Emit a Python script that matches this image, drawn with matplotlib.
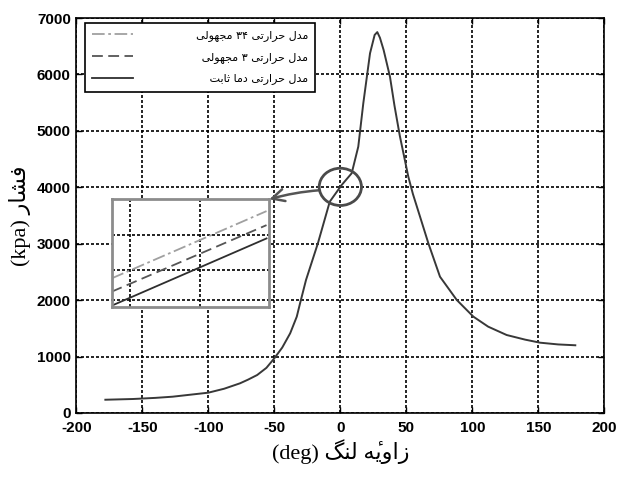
import re
import numpy as np
import matplotlib
matplotlib.use('Agg')
import matplotlib.pyplot as plt
from matplotlib.patches import Ellipse

# زاویه لنگ (deg) و فشار (kpa)
angle = [-178, -157, -140, -127, -100, -88, -76, -70, -63, -56, -50, -44, -38,
         -33, -30.5, -26, -17, -8, 1, 8.6, 13.6, 17.4, 22.5,
         26, 28, 30, 32.8, 35.2, 37.6, 41, 45, 51.5, 55,
         60.4, 66.7, 75.5, 88.2, 100.8, 112, 126, 140, 151.3, 165, 178]
pressure = [235, 248, 268, 289, 360, 430, 526, 590, 673, 800, 969, 1160, 1412,
            1707, 1944, 2357, 3007, 3745, 4040, 4248, 4720, 5488, 6375,
            6700, 6750, 6650, 6433, 6197, 5960, 5450, 4920, 4188, 3880,
            3478, 3007, 2415, 2003, 1707, 1530, 1382, 1300, 1246, 1215, 1200]

# zoomed window around TDC (inset)
zoom_angle = [-1.26, 0.95]
zoom_34 = [3938, 4034]
zoom_3 = [3919, 4014]
zoom_const = [3899, 3995]

xticks = list(range(-200, 201, 50))
yticks = list(range(0, 7001, 1000))

lbl_34 = 'مدل حرارتی ۳۴ مجهولی'
lbl_3 = 'مدل حرارتی ۳ مجهولی'
lbl_const = 'مدل حرارتی دما ثابت'
xlabel_fa = 'زاویهٔ لنگ'
ylabel_fa = 'فشار'

# matplotlib has no arabic shaping, so do it by hand (iso, fin, ini, med)
FORMS = {
    'ا': ('\uFE8D', '\uFE8E', None, None),
    'د': ('\uFEA9', '\uFEAA', None, None),
    'ر': ('\uFEAD', '\uFEAE', None, None),
    'ز': ('\uFEAF', '\uFEB0', None, None),
    'و': ('\uFEED', '\uFEEE', None, None),
    '\u06C0': ('\uE000', '\uE001', None, None),   # heh + hamza, filled in later
    'ب': ('\uFE8F', '\uFE90', '\uFE91', '\uFE92'),
    'ت': ('\uFE95', '\uFE96', '\uFE97', '\uFE98'),
    'ث': ('\uFE99', '\uFE9A', '\uFE9B', '\uFE9C'),
    'ج': ('\uFE9D', '\uFE9E', '\uFE9F', '\uFEA0'),
    'ح': ('\uFEA1', '\uFEA2', '\uFEA3', '\uFEA4'),
    'ش': ('\uFEB5', '\uFEB6', '\uFEB7', '\uFEB8'),
    'ف': ('\uFED1', '\uFED2', '\uFED3', '\uFED4'),
    'ل': ('\uFEDD', '\uFEDE', '\uFEDF', '\uFEE0'),
    'م': ('\uFEE1', '\uFEE2', '\uFEE3', '\uFEE4'),
    'ن': ('\uFEE5', '\uFEE6', '\uFEE7', '\uFEE8'),
    'ه': ('\uFEE9', '\uFEEA', '\uFEEB', '\uFEEC'),
    'گ': ('\uFB92', '\uFB93', '\uFB94', '\uFB95'),
    'ی': ('\uFBFC', '\uFBFD', '\uFBFE', '\uFBFF'),
}


def shape(word):
    out = []
    for i, ch in enumerate(word):
        if ch not in FORMS:
            out.append(ch)
            continue
        iso, fin, ini, med = FORMS[ch]
        prev = word[i - 1] if i > 0 else ''
        nxt = word[i + 1] if i < len(word) - 1 else ''
        jp = prev in FORMS and FORMS[prev][2] is not None
        jn = ini is not None and nxt in FORMS
        if jp and jn:
            out.append(med)
        elif jp:
            out.append(fin)
        elif jn:
            out.append(ini)
        else:
            out.append(iso)
    return ''.join(out)


def visual(s):
    s = shape(s.replace('ه\u0654', '\u06C0'))[::-1]
    s = s.replace('\uE000', '\uFEE9\u0654').replace('\uE001', '\uFEEA\u0654')
    # numbers stay left to right
    return re.sub('[0-9\u06F0-\u06F9]+', lambda m: m.group(0)[::-1], s)


plt.rcParams['font.family'] = ['Liberation Sans', 'DejaVu Sans']
plt.rcParams['axes.unicode_minus'] = False
dots = (0, (1.8, 1.2))

fig = plt.figure(figsize=(6.22, 4.8), dpi=100)
ax = fig.add_axes([0.1227, 0.1396, 0.8489, 0.8229])

ax.plot(angle, pressure, color='#383838', lw=1.4, zorder=3)
ax.set_xlim(-200, 200)
ax.set_ylim(0, 7000)
ax.set_xticks(xticks)
ax.set_yticks(yticks)
ax.grid(True, color='black', linestyle=dots, lw=1.2)
ax.tick_params(direction='in', top=True, right=True, length=4, width=1,
               labelsize=11, pad=4)
ax.tick_params(axis='x', pad=6)
for t in ax.get_xticklabels() + ax.get_yticklabels():
    t.set_fontweight('bold')
for s in ax.spines.values():
    s.set_linewidth(1.2)

ax.set_xlabel('(deg) ' + visual(xlabel_fa), family=['Liberation Serif', 'DejaVu Sans'],
              fontsize=16, labelpad=3)
ax.set_ylabel('(kpa) ' + visual(ylabel_fa), family=['Liberation Serif', 'DejaVu Sans'],
              fontsize=16, labelpad=4)

# circle at TDC + arrow to the zoom box
cy = np.interp(0, angle, pressure)
ax.add_patch(Ellipse((0, cy), 32, 660, fill=False, ec='#4a4a4a', lw=2, zorder=4))

ins = fig.add_axes([0.1796, 0.361, 0.2534, 0.2238])
l34, = ins.plot(zoom_angle, zoom_34, color='#a0a0a0', ls=(0, (7, 2, 1.5, 2)), lw=1.3)
l3, = ins.plot(zoom_angle, zoom_3, color='#555555', ls=(0, (6, 3)), lw=1.3)
lc, = ins.plot(zoom_angle, zoom_const, color='#2e2e2e', lw=1.3)
ins.set_xlim(-1.26, 0.99)
ins.set_ylim(3897.5, 4050.9)
ins.set_xticks([-1, 0])
ins.set_yticks([3907, 3950, 4000])
ins.tick_params(length=0, labelbottom=False, labelleft=False)
ins.grid(True, color='black', linestyle=dots, lw=1.2)
for s in ins.spines.values():
    s.set_color('#8c8c8c')
    s.set_linewidth(2)

ax.annotate('', xy=(1.0, 1.0), xycoords=ins.transAxes,
            xytext=(-16, cy - 60), textcoords='data',
            arrowprops=dict(arrowstyle='->', color='#555555', lw=1.8,
                            mutation_scale=22, shrinkA=0, shrinkB=0,
                            connectionstyle='arc3,rad=0.05'))

leg = ax.legend([l34, l3, lc], [visual(lbl_34), visual(lbl_3), visual(lbl_const)],
                loc='upper left', bbox_to_anchor=(0.0165, 0.987), borderaxespad=0,
                fancybox=False, edgecolor='black', framealpha=1,
                prop={'family': 'DejaVu Sans', 'size': 8},
                handlelength=3.7, handletextpad=5.6, labelspacing=0.95, borderpad=0.65)
leg.get_frame().set_linewidth(1.2)
leg.set_zorder(5)

# right-align legend texts (rtl) by padding the shorter ones
fig.canvas.draw()
rend = fig.canvas.get_renderer()
texts = leg.get_texts()
wmax = max(t.get_window_extent(rend).width for t in texts)
for t in texts:
    s = t.get_text()
    n = 0
    while t.get_window_extent(rend).width < wmax - 1 and n < 80:
        s = '\u200a' + s
        t.set_text(s)
        n += 1

fig.savefig('out.png', dpi=100)
